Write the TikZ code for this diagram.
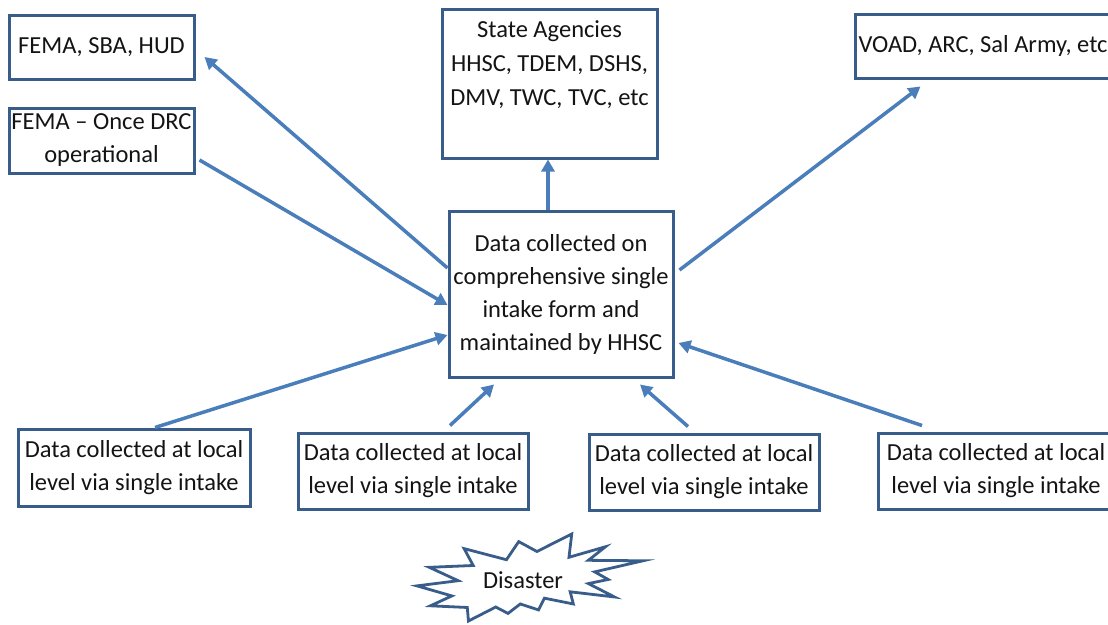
\documentclass[tikz,border=0pt]{standalone}
\usepackage{fontspec}
\setmainfont{Carlito}
\usetikzlibrary{arrows.meta,calc}
\definecolor{boxc}{RGB}{56,93,138}
\definecolor{arrc}{RGB}{74,126,187}
\definecolor{txtc}{RGB}{20,20,20}
\begin{document}
\begin{tikzpicture}[x=1pt,y=-1pt,
  box/.style={draw=boxc, line width=3pt, fill=white, inner sep=0pt, align=center,
    text=txtc, font=\fontsize{24.5}{33}\selectfont},
  conn/.style={draw=arrc, line width=3.5pt, -{Triangle[length=12pt,width=13pt]}},
  lbl/.style={text=txtc, font=\fontsize{24.5}{34}\selectfont, align=center, inner sep=0pt}]
\useasboundingbox (0,0) rectangle (1108,624);
\fill[white] (0,0) rectangle (1108,624);

% boxes
\node[box, minimum width=185pt, minimum height=64pt] (fema) at (101.5,47) {FEMA, SBA, HUD};
\node[box, minimum width=185pt, minimum height=65pt] (femadrc) at (101.5,140.5) {FEMA -- Once DRC\\operational};
\node[box, minimum width=215pt, minimum height=149pt,
  label={[lbl, anchor=north, yshift=-13pt]north:{State Agencies\\HHSC, TDEM, DSHS,\\DMV, TWC, TVC, etc}}] (state) at (549.5,83.5) {};
\node[box, minimum width=256pt, minimum height=64pt] (voad) at (983,46) {VOAD, ARC, Sal Army, etc};
\node[box, minimum width=224pt, minimum height=166pt] (center) at (561,294)
  {Data collected on\\comprehensive single\\intake form and\\maintained by HHSC};
\node[box, minimum width=232pt, minimum height=77pt] (b1) at (134,467.5) {Data collected at local\\level via single intake};
\node[box, minimum width=230pt, minimum height=76pt] (b2) at (413,471) {Data collected at local\\level via single intake};
\node[box, minimum width=230pt, minimum height=76pt] (b3) at (704,472) {Data collected at local\\level via single intake};
\node[box, minimum width=236pt, minimum height=76pt] (b4) at (996,471) {Data collected at local\\level via single intake};

% disaster (explosion)
\begin{scope}[shift={(417pt,-534pt)}, x=1.0463pt, y=-0.4028pt]
\draw[draw=boxc, line width=2.8pt, fill=white, line join=miter]
 (114.62,43.42) -- (147.90,0) -- (145.25,57.77) -- (180.07,31.72) -- (163.80,65.32) --
 (216,66.45) -- (169.85,94.02) -- (182.70,112.90) -- (163.80,123.10) -- (188.77,156.32) --
 (146.40,143.50) -- (149.42,173.70) -- (121.80,159.35) -- (116.12,188.42) -- (98.72,173.70) --
 (87.00,197.12) -- (75.27,181.25) -- (49.17,216) -- (48.05,182.40) -- (12.85,178.25) --
 (33.30,153.70) -- (0,128.77) -- (39.35,115.92) -- (11.72,82.70) -- (53.72,78.17) --
 (45.02,36.25) -- (85.50,63.82) -- (97.22,18.87) -- cycle;
\end{scope}
\node[lbl] (disaster) at (523,580) {Disaster};

% connectors
\draw[conn] ([yshift=26pt]center.west) -- ([xshift=9pt,yshift=-10pt]fema.east);
\draw[conn] ([xshift=4pt,yshift=-19.5pt]femadrc.east) -- ([yshift=-11pt]center.west);
\draw[conn] ([xshift=-13pt]center.north) -- ([xshift=-13pt]center.north |- state.south);
\draw[conn] ([xshift=5pt,yshift=24pt]center.east) -- ([xshift=67pt,yshift=-7pt]voad.south west);
\draw[conn] ([xshift=21pt]b1.north) -- ([yshift=-41pt]center.west);
\draw[conn] ([xshift=37pt,yshift=6pt]b2.north) -- ([xshift=-67pt,yshift=-6pt]center.south);
\draw[conn] ([xshift=-16pt,yshift=6pt]b3.north) -- ([xshift=79pt,yshift=-6pt]center.south);
\draw[conn] ([xshift=-74pt,yshift=6pt]b4.north) -- ([xshift=4pt,yshift=-49pt]center.east);
\end{tikzpicture}
\end{document}
